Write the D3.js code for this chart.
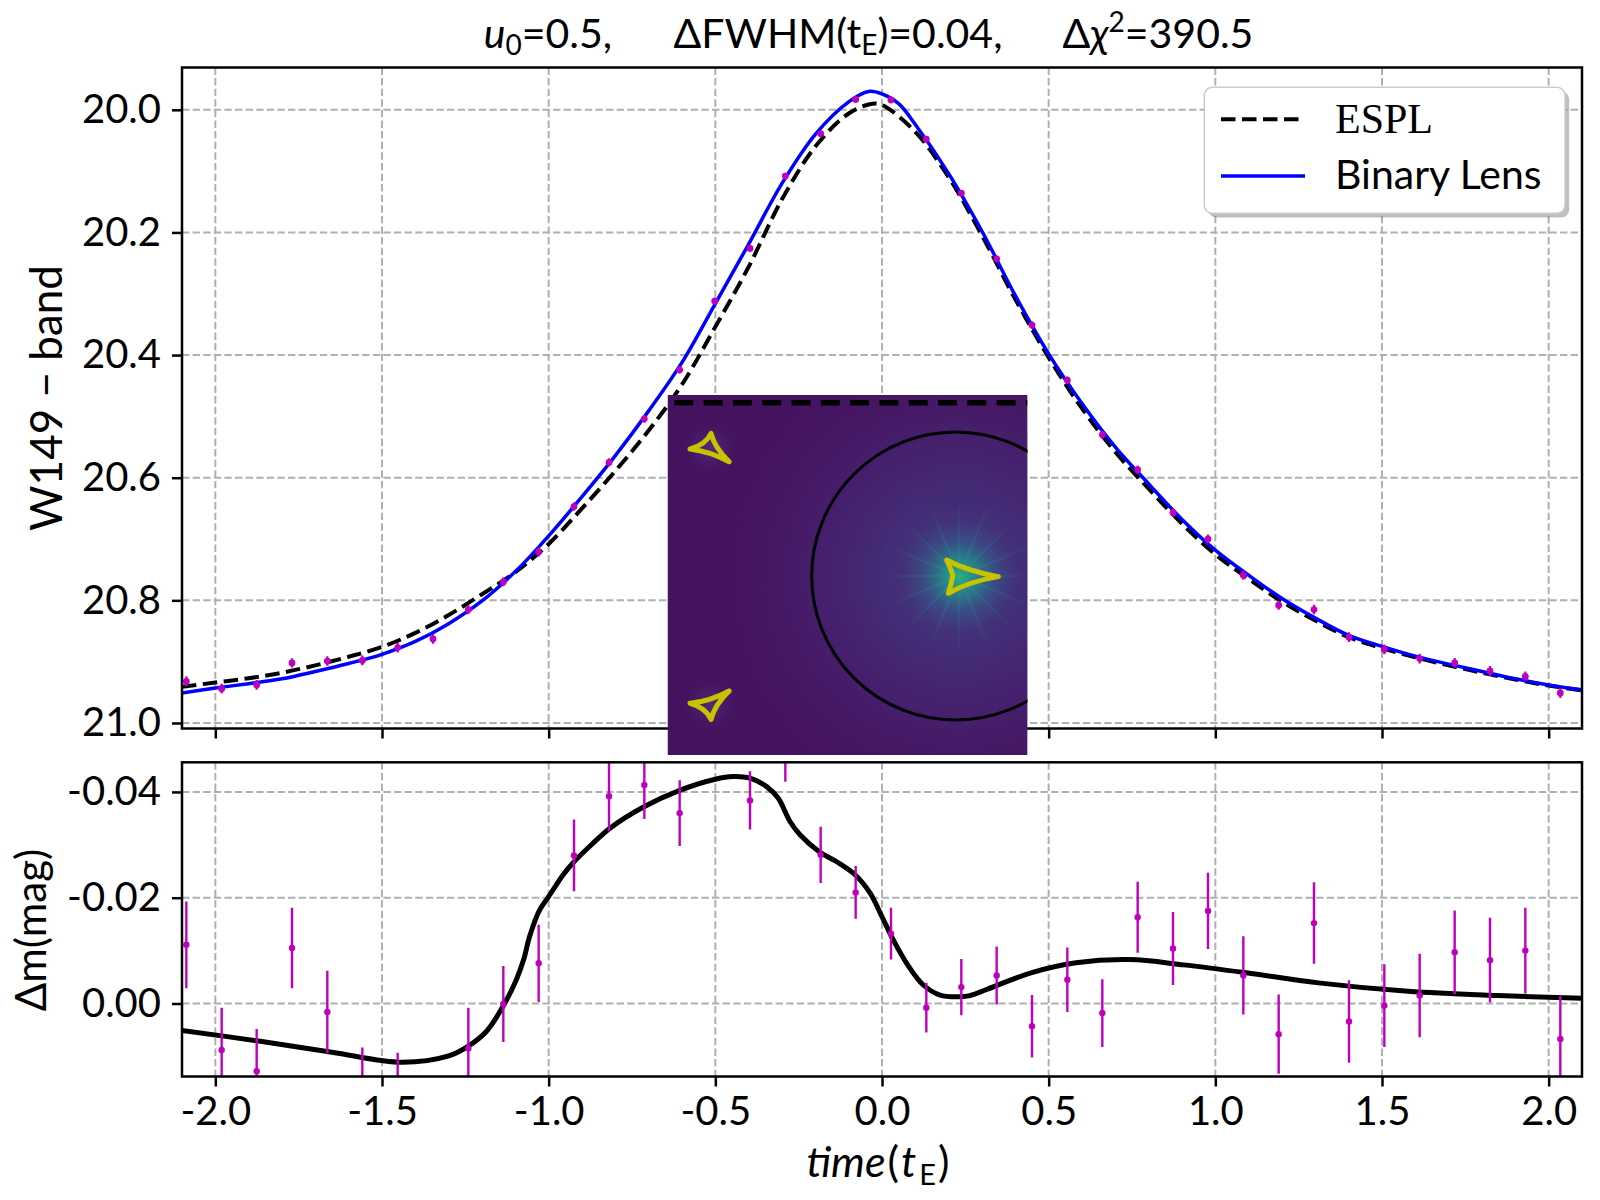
<!DOCTYPE html>
<html><head><meta charset="utf-8">
<script src="https://cdn.jsdelivr.net/npm/d3@7"></script>
<style>html,body{margin:0;padding:0;background:#fff}svg{display:block}</style>
</head><body>
<svg id="chart" width="1600" height="1200"></svg>
<script>
// ---------------- DATA ----------------
const obsTime = [-2.087,-1.981,-1.876,-1.770,-1.664,-1.559,-1.453,-1.347,-1.241,-1.136,-1.030,-0.924,-0.819,-0.713,-0.607,-0.502,-0.396,-0.290,-0.184,-0.079,0.027,0.133,0.238,0.344,0.450,0.556,0.661,0.767,0.873,0.978,1.084,1.190,1.296,1.401,1.507,1.613,1.718,1.824,1.930,2.035];
const obsMag = [20.932,20.944,20.938,20.902,20.899,20.898,20.877,20.863,20.815,20.770,20.721,20.647,20.575,20.504,20.424,20.312,20.226,20.108,20.039,19.983,19.984,20.048,20.136,20.243,20.351,20.441,20.530,20.587,20.657,20.700,20.759,20.808,20.815,20.860,20.880,20.895,20.902,20.915,20.924,20.951];
const obsResid = [-0.0111,0.0088,0.0128,-0.0105,0.0016,0.0163,0.0173,0.0260,0.0085,0.0001,-0.0076,-0.0280,-0.0392,-0.0413,-0.0360,-0.0540,-0.0384,-0.0474,-0.0281,-0.0210,-0.0132,0.0008,-0.0031,-0.0053,0.0043,-0.0045,0.0018,-0.0163,-0.0104,-0.0175,-0.0053,0.0058,-0.0152,0.0034,0.0004,-0.0015,-0.0097,-0.0082,-0.0100,0.0067];
const obsErr = [0.0082,0.0080,0.0080,0.0076,0.0078,0.0080,0.0080,0.0078,0.0077,0.0072,0.0073,0.0068,0.0066,0.0064,0.0062,0.0058,0.0055,0.0055,0.0053,0.0050,0.0049,0.0047,0.0053,0.0055,0.0059,0.0061,0.0064,0.0067,0.0069,0.0072,0.0074,0.0075,0.0077,0.0078,0.0078,0.0079,0.0079,0.0080,0.0081,0.0082];

const esplTime = [-2.1,-2.0,-1.9,-1.8,-1.7,-1.6,-1.5,-1.4,-1.3,-1.2,-1.1,-1.0,-0.9,-0.8,-0.7,-0.6,-0.5,-0.4,-0.3,-0.2,-0.1,-0.03,0.0,0.1,0.2,0.3,0.4,0.5,0.6,0.7,0.8,0.9,1.0,1.1,1.2,1.3,1.4,1.5,1.6,1.7,1.8,1.9,2.0,2.1];
const esplMag = [20.941,20.934,20.927,20.918,20.906,20.892,20.876,20.853,20.824,20.790,20.754,20.708,20.650,20.589,20.523,20.448,20.354,20.256,20.146,20.060,20.006,19.990,19.992,20.036,20.110,20.205,20.309,20.404,20.487,20.558,20.618,20.675,20.725,20.765,20.802,20.833,20.860,20.878,20.893,20.906,20.918,20.929,20.939,20.947];

const binTime = [-2.1,-2.0,-1.9,-1.8,-1.7,-1.6,-1.5,-1.4,-1.3,-1.2,-1.1,-1.05,-1.0,-0.9,-0.8,-0.7,-0.6,-0.5,-0.4,-0.3,-0.2,-0.1,-0.04,0.0,0.05,0.1,0.2,0.3,0.4,0.5,0.6,0.7,0.8,0.9,1.0,1.1,1.2,1.3,1.4,1.5,1.6,1.7,1.8,1.9,2.0,2.1];
const binMag = [20.951,20.943,20.936,20.928,20.916,20.903,20.888,20.867,20.838,20.801,20.753,20.725,20.695,20.631,20.564,20.491,20.412,20.316,20.219,20.120,20.040,19.987,19.970,19.974,19.990,20.024,20.104,20.198,20.303,20.398,20.479,20.550,20.610,20.668,20.718,20.759,20.797,20.829,20.857,20.875,20.891,20.904,20.916,20.928,20.938,20.946];

const residTime = [-2.1,-1.87,-1.65,-1.44,-1.30,-1.242,-1.187,-1.134,-1.097,-1.075,-1.057,-1.027,-1.0,-0.957,-0.924,-0.867,-0.817,-0.717,-0.607,-0.5,-0.447,-0.396,-0.346,-0.311,-0.291,-0.276,-0.246,-0.188,-0.136,-0.08,-0.036,0.0,0.034,0.074,0.124,0.174,0.234,0.264,0.312,0.447,0.582,0.743,0.905,1.093,1.309,1.578,1.847,2.1];
const residVal = [0.0051,0.0071,0.0092,0.0111,0.0099,0.0081,0.0053,0.0002,-0.0045,-0.0083,-0.0127,-0.0177,-0.0202,-0.0243,-0.0268,-0.0303,-0.0331,-0.0371,-0.0403,-0.0424,-0.0429,-0.0426,-0.0410,-0.0388,-0.0363,-0.0344,-0.0319,-0.0287,-0.0268,-0.0243,-0.0209,-0.0164,-0.0120,-0.0076,-0.0035,-0.0016,-0.0013,-0.0015,-0.0026,-0.0058,-0.0077,-0.0083,-0.0073,-0.0058,-0.0039,-0.0023,-0.0015,-0.0010];

const xTicks = [-2.0,-1.5,-1.0,-0.5,0.0,0.5,1.0,1.5,2.0];
const magTicks = [20.0,20.2,20.4,20.6,20.8,21.0];
const residTicks = [-0.04,-0.02,0.00];
const seriesNames = ["ESPL","Binary Lens"];

// inset (source plane, arbitrary units in [-1,1])
const insetCircleCenter = [0.601,-0.006];
const insetCircleRadius = 0.8;
const trajectoryY = 0.957;
const causticUpper = [[-0.875,0.700],[-0.758,0.787],[-0.657,0.629]];
const causticLower = [[-0.875,-0.713],[-0.758,-0.802],[-0.657,-0.644]];
const causticCentral = [[0.551,0.083],[0.838,-0.009],[0.560,-0.102],[0.585,0.0]];
const glowRayAngles = [0,22.5,45,67.5,90,112.5,135,157.5,180,202.5,225,247.5,270,292.5,315,337.5];

// ---------------- LAYOUT ----------------
const TOP = {x0:182, x1:1582, y0:67.5, y1:728.5};
const BOT = {x0:182, x1:1582, y0:762.3, y1:1076.5};
const INSET = {x0:667.5, x1:1027.5, y0:395, y1:755};
const SANS = "Lato, 'Open Sans', 'DejaVu Sans', sans-serif";
const MAG = "#bf00bf";

const x = d3.scaleLinear([-2.1,2.1],[TOP.x0,TOP.x1]);
const yTop = d3.scaleLinear([19.931,21.009],[TOP.y0,TOP.y1]);
const yBot = d3.scaleLinear([-0.0456,0.0138],[BOT.y0,BOT.y1]);
const fmt = f => d => d3.format(f)(d).replace("\u2212","-");

const svg = d3.select("#chart");
const defs = svg.append("defs");
function clip(id,P){defs.append("clipPath").attr("id",id).append("rect")
  .attr("x",P.x0).attr("y",P.y0).attr("width",P.x1-P.x0).attr("height",P.y1-P.y0);}
clip("clipTop",TOP); clip("clipBot",BOT); clip("clipInset",INSET);

// ---------------- GRID ----------------
const gGrid = svg.append("g").attr("stroke","#b0b0b0").attr("stroke-width",2).attr("stroke-dasharray","7.4,3.2");
[[TOP,yTop,magTicks],[BOT,yBot,residTicks]].forEach(([P,ys,ticks])=>{
  gGrid.append("g").selectAll("line").data(xTicks).join("line")
    .attr("x1",d=>x(d)).attr("x2",d=>x(d)).attr("y1",P.y0).attr("y2",P.y1);
  gGrid.append("g").selectAll("line").data(ticks).join("line")
    .attr("x1",P.x0).attr("x2",P.x1).attr("y1",d=>ys(d)).attr("y2",d=>ys(d));
});

// ---------------- TOP PANEL ----------------
const mkLine = (ts, vs, ys) => d3.line().x((d,i)=>x(ts[i])).y((d,i)=>ys(vs[i])).curve(d3.curveCatmullRom.alpha(0.5))(ts);
const gTop = svg.append("g").attr("clip-path","url(#clipTop)");
gTop.append("path").attr("d",mkLine(esplTime,esplMag,yTop)).attr("fill","none")
  .attr("stroke","#000").attr("stroke-width",4).attr("stroke-dasharray","14.5,6.5");
gTop.append("path").attr("d",mkLine(binTime,binMag,yTop)).attr("fill","none")
  .attr("stroke","#0000ff").attr("stroke-width",3.5);
gTop.append("g").selectAll("line").data(obsTime).join("line")
  .attr("x1",d=>x(d)).attr("x2",d=>x(d))
  .attr("y1",(d,i)=>yTop(obsMag[i]-obsErr[i])).attr("y2",(d,i)=>yTop(obsMag[i]+obsErr[i]))
  .attr("stroke",MAG).attr("stroke-width",2.2);
gTop.append("g").selectAll("circle").data(obsTime).join("circle")
  .attr("cx",d=>x(d)).attr("cy",(d,i)=>yTop(obsMag[i])).attr("r",3.4).attr("fill",MAG);

// ---------------- BOTTOM PANEL ----------------
const gBot = svg.append("g").attr("clip-path","url(#clipBot)");
gBot.append("path").attr("d",mkLine(residTime,residVal,yBot)).attr("fill","none")
  .attr("stroke","#000").attr("stroke-width",5);
gBot.append("g").selectAll("line").data(obsTime).join("line")
  .attr("x1",d=>x(d)).attr("x2",d=>x(d))
  .attr("y1",(d,i)=>yBot(obsResid[i]-obsErr[i])).attr("y2",(d,i)=>yBot(obsResid[i]+obsErr[i]))
  .attr("stroke",MAG).attr("stroke-width",2.4);
gBot.append("g").selectAll("circle").data(obsTime).join("circle")
  .attr("cx",d=>x(d)).attr("cy",(d,i)=>yBot(obsResid[i])).attr("r",3.2).attr("fill",MAG);

// ---------------- AXES ----------------
function styleAxis(g){
  g.attr("font-family",SANS).attr("font-size",40);
  g.select(".domain").remove();
  g.selectAll(".tick line").attr("stroke","#000").attr("stroke-width",2.5);
  g.selectAll(".tick text").attr("fill","#000");
}
svg.append("g").attr("transform",`translate(${TOP.x0},0)`)
  .call(d3.axisLeft(yTop).tickValues(magTicks).tickFormat(fmt(".1f")).tickSize(10).tickPadding(11)).call(styleAxis);
svg.append("g").attr("transform",`translate(0,${TOP.y1})`)
  .call(d3.axisBottom(x).tickValues(xTicks).tickFormat("").tickSize(10)).call(styleAxis);
svg.append("g").attr("transform",`translate(${BOT.x0},0)`)
  .call(d3.axisLeft(yBot).tickValues(residTicks).tickFormat(fmt(".2f")).tickSize(10).tickPadding(11)).call(styleAxis);
svg.append("g").attr("transform",`translate(0,${BOT.y1})`)
  .call(d3.axisBottom(x).tickValues(xTicks).tickFormat(fmt(".1f")).tickSize(10).tickPadding(10)).call(styleAxis);
[TOP,BOT].forEach(P=>svg.append("rect").attr("x",P.x0).attr("y",P.y0)
  .attr("width",P.x1-P.x0).attr("height",P.y1-P.y0)
  .attr("fill","none").attr("stroke","#000").attr("stroke-width",2.5));

// ---------------- LEGEND ----------------
const lg = svg.append("g");
lg.append("rect").attr("x",1208.5).attr("y",91.5).attr("width",360.7).attr("height",126).attr("rx",8)
  .attr("fill","#808080").attr("opacity",0.5);
lg.append("rect").attr("x",1204.3).attr("y",87.3).attr("width",360.7).attr("height",126).attr("rx",8)
  .attr("fill","#fff").attr("stroke","#cccccc").attr("stroke-width",1.5);
lg.append("line").attr("x1",1221).attr("x2",1305).attr("y1",119.3).attr("y2",119.3)
  .attr("stroke","#000").attr("stroke-width",4).attr("stroke-dasharray","14.5,6.5");
lg.append("text").attr("x",1335).attr("y",133.3).attr("font-family","'Liberation Serif','DejaVu Serif',serif")
  .attr("font-size",42).text(seriesNames[0]);
lg.append("line").attr("x1",1221).attr("x2",1305).attr("y1",176).attr("y2",176)
  .attr("stroke","#0000ff").attr("stroke-width",3.5);
lg.append("text").attr("x",1335).attr("y",189.3).attr("font-family",SANS)
  .attr("font-size",41).text(seriesNames[1]);

// ---------------- INSET ----------------
const ix = d3.scaleLinear([-1,1],[INSET.x0,INSET.x1]);
const iy = d3.scaleLinear([-1,1],[INSET.y1,INSET.y0]);
const cpx = ix(0.62), cpy = iy(-0.005);
function radial(id,stops,attrs){
  const g = defs.append("radialGradient").attr("id",id);
  if(attrs) Object.entries(attrs).forEach(([k,v])=>g.attr(k,v));
  stops.forEach(s=>g.append("stop").attr("offset",s[0]).attr("stop-color",s[1]).attr("stop-opacity",s[2]));
}
radial("haloBig",[[0,"#3d4d8a",0.8],[0.25,"#423f86",0.65],[0.55,"#46317d",0.45],[1,"#46185f",0]]);
radial("haloCore",[[0,"#2fae80",0.95],[0.15,"#22a085",0.9],[0.35,"#21908d",0.7],[0.6,"#2c728e",0.4],[1,"#3b528b",0]]);
radial("rayGrad",[[0,"#2aa883",0.9],[0.4,"#21908c",0.45],[1,"#3b528b",0]],
  {gradientUnits:"userSpaceOnUse",cx:cpx,cy:cpy,r:90});
radial("smallGlow",[[0,"#5a4a9a",0.5],[1,"#46185f",0]]);

const gIn = svg.append("g").attr("clip-path","url(#clipInset)");
gIn.append("rect").attr("x",INSET.x0).attr("y",INSET.y0).attr("width",INSET.x1-INSET.x0)
  .attr("height",INSET.y1-INSET.y0).attr("fill","#45125f");
gIn.append("circle").attr("cx",cpx).attr("cy",cpy).attr("r",250).attr("fill","url(#haloBig)");
gIn.append("g").selectAll("line").data(glowRayAngles).join("line")
  .attr("x1",cpx).attr("y1",cpy)
  .attr("x2",d=>cpx+90*Math.cos(d*Math.PI/180)).attr("y2",d=>cpy+90*Math.sin(d*Math.PI/180))
  .attr("stroke","url(#rayGrad)").attr("stroke-width",2.5).attr("opacity",0.6);
gIn.append("circle").attr("cx",cpx).attr("cy",cpy).attr("r",58).attr("fill","url(#haloCore)");
[causticUpper,causticLower].forEach(c=>{
  gIn.append("circle").attr("cx",ix(d3.mean(c,p=>p[0]))).attr("cy",iy(d3.mean(c,p=>p[1])))
    .attr("r",30).attr("fill","url(#smallGlow)");
});
gIn.append("circle").attr("cx",ix(insetCircleCenter[0])).attr("cy",iy(insetCircleCenter[1]))
  .attr("r",ix(insetCircleRadius)-ix(0)).attr("fill","none").attr("stroke","#000").attr("stroke-width",3);
gIn.append("line").attr("x1",ix(-1)).attr("x2",ix(1)).attr("y1",iy(trajectoryY)).attr("y2",iy(trajectoryY))
  .attr("stroke","#000").attr("stroke-width",5.5).attr("stroke-dasharray","19,10.3").attr("stroke-dashoffset",22.5);

function causticPath(pts,f){
  const cx = d3.mean(pts,p=>p[0]), cy = d3.mean(pts,p=>p[1]);
  const p = d3.path(); p.moveTo(ix(pts[0][0]),iy(pts[0][1]));
  pts.forEach((a,i)=>{
    const b = pts[(i+1)%pts.length];
    const mx=(a[0]+b[0])/2, my=(a[1]+b[1])/2;
    const qx = cx+(mx-cx)*f[i], qy = cy+(my-cy)*f[i];
    p.quadraticCurveTo(ix(qx),iy(qy),ix(b[0]),iy(b[1]));
  });
  p.closePath(); return p.toString();
}
[[causticUpper,[0.45,0.45,0.45]],[causticLower,[0.45,0.45,0.45]],[causticCentral,[0.6,0.6,0.9,0.9]]].forEach(([c,f])=>{
  gIn.append("path").attr("d",causticPath(c,f)).attr("fill","none")
    .attr("stroke","#c8c200").attr("stroke-width",5).attr("stroke-linejoin","round").attr("stroke-linecap","round");
});

// ---------------- TEXTS ----------------
const tg = svg.append("g").attr("font-family",SANS).attr("fill","#000");
const t1 = tg.append("text").attr("x",548).attr("y",48).attr("text-anchor","middle").attr("font-size",41);
t1.append("tspan").attr("font-style","italic").text("u");
t1.append("tspan").attr("font-size",28).attr("dy",7).text("0");
t1.append("tspan").attr("dy",-7).text("=0.5,");
const t2 = tg.append("text").attr("x",838).attr("y",48).attr("text-anchor","middle").attr("font-size",41);
t2.append("tspan").text("\u0394FWHM(t");
t2.append("tspan").attr("font-size",28).attr("dy",7).text("E");
t2.append("tspan").attr("dy",-7).text(")=0.04,");
const t3 = tg.append("text").attr("x",1158).attr("y",48).attr("text-anchor","middle").attr("font-size",41);
t3.append("tspan").text("\u0394");
t3.append("tspan").attr("font-style","italic").text("\u03C7");
t3.append("tspan").attr("font-size",28).attr("dy",-16).text("2");
t3.append("tspan").attr("dy",16).text("=390.5");

// x label built from separate pieces laid side by side (no overlap)
const xlBase = 1177;
const xlPieces = [
  {s:"time", it:true, size:43, dy:0, gap:2},
  {s:"(", it:false, size:43, dy:0, gap:2},
  {s:"t", it:true, size:43, dy:0, gap:3},
  {s:"E", it:false, size:29, dy:8, gap:2},
  {s:")", it:false, size:43, dy:0, gap:0}
];
const xlG = tg.append("g");
let cursor = 0;
xlPieces.forEach(p=>{
  const t = xlG.append("text").attr("x",cursor).attr("y",xlBase+p.dy).attr("font-size",p.size)
    .attr("font-style",p.it?"italic":"normal").text(p.s);
  cursor += t.node().getComputedTextLength() + p.gap;
});
xlG.attr("transform",`translate(${878-cursor/2},0)`);

tg.append("text").attr("transform",`translate(62,${(TOP.y0+TOP.y1)/2}) rotate(-90)`)
  .attr("text-anchor","middle").attr("font-size",44).text("W149 \u2212 band");
tg.append("text").attr("transform",`translate(46,930) rotate(-90)`)
  .attr("text-anchor","middle").attr("font-size",42).text("\u0394m(mag)");
</script>
</body></html>
